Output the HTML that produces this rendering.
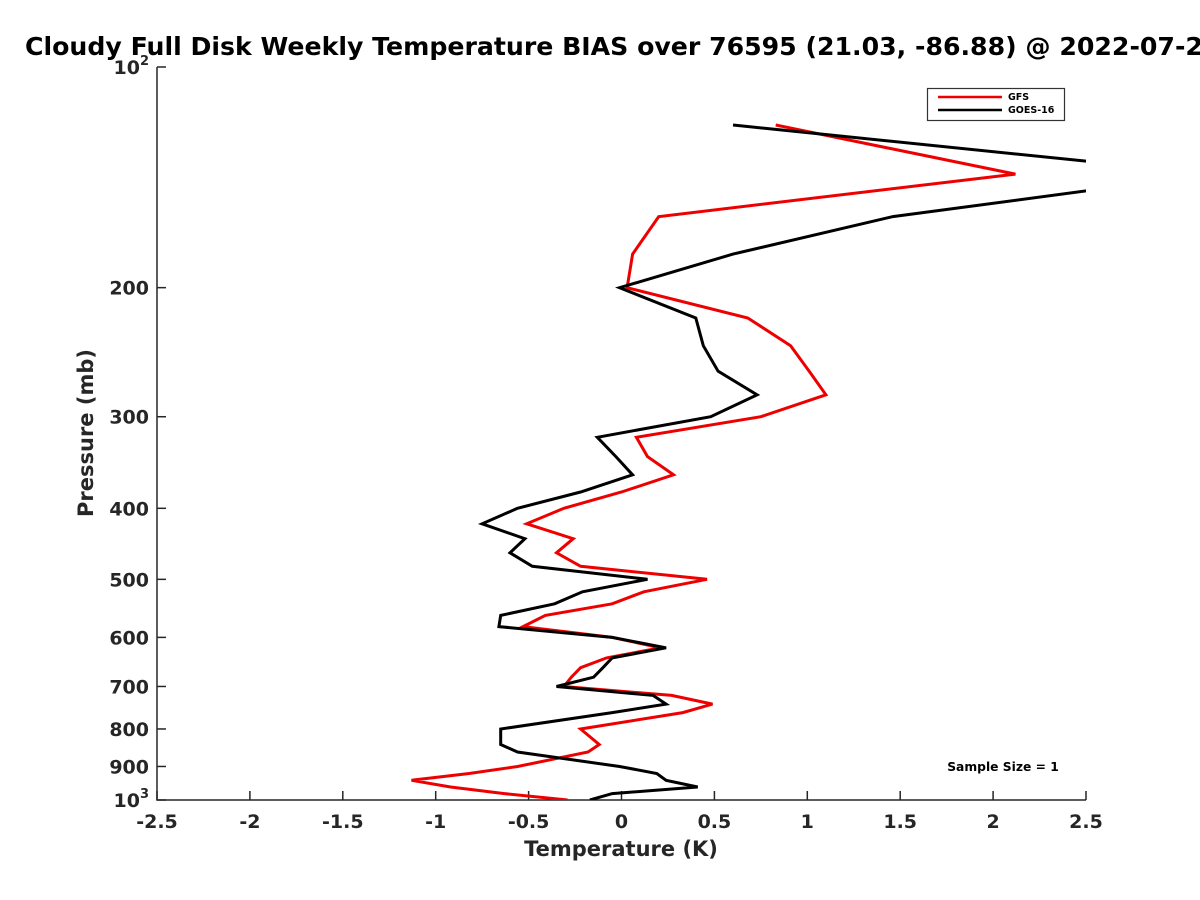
<!DOCTYPE html>
<html><head><meta charset="utf-8"><style>
html,body{margin:0;padding:0;background:#fff;}
svg{display:block;font-family:"DejaVu Sans","Liberation Sans",sans-serif;}
</style></head><body>
<svg id="chart" width="1200" height="900" xmlns="http://www.w3.org/2000/svg">
<defs><clipPath id="plotclip"><rect x="157" y="67" width="929" height="733"/></clipPath></defs>
<text x="25" y="55" font-size="25.2" font-weight="bold" fill="#000">Cloudy Full Disk Weekly Temperature BIAS over 76595 (21.03, -86.88) @ 2022-07-25</text>
<g id="axes"></g>
<g id="series" clip-path="url(#plotclip)"></g>
<g>
<rect x="927.5" y="88.5" width="137" height="32" fill="#fff" stroke="#333" stroke-width="1.2"/>
<line x1="938" y1="97" x2="1002" y2="97" stroke="#e00" stroke-width="2.5"/>
<text x="1008" y="100" font-size="9.5" font-weight="bold">GFS</text>
<line x1="938" y1="110" x2="1002" y2="110" stroke="#000" stroke-width="2.5"/>
<text x="1008" y="113" font-size="9.5" font-weight="bold">GOES-16</text>
</g>
<text x="1003" y="771" font-size="12.3" font-weight="bold" text-anchor="middle">Sample Size = 1</text>
</svg>
<script>
const pressures=[120,140,160,180,200,220,240,260,280,300,320,340,360,380,400,420,440,460,480,500,520,540,560,580,600,620,640,660,680,700,720,740,760,800,840,860,900,920,940,960,980,1000];
const gfsValues=[0.83,2.12,0.20,0.06,0.03,0.68,0.91,1.01,1.10,0.75,0.08,0.14,0.28,0.00,-0.31,-0.51,-0.26,-0.35,-0.22,0.46,0.12,-0.05,-0.41,-0.53,-0.05,0.21,-0.08,-0.22,-0.27,-0.31,0.27,0.49,0.33,-0.22,-0.12,-0.18,-0.56,-0.82,-1.13,-0.92,-0.63,-0.29];
const goesValues=[0.60,3.18,1.46,0.60,-0.01,0.40,0.44,0.52,0.73,0.48,-0.13,-0.03,0.06,-0.22,-0.56,-0.75,-0.52,-0.60,-0.48,0.14,-0.21,-0.36,-0.65,-0.66,-0.05,0.24,-0.05,-0.10,-0.15,-0.35,0.17,0.24,-0.05,-0.65,-0.65,-0.56,-0.01,0.19,0.24,0.41,-0.05,-0.17];
const xTicks=[-2.5,-2,-1.5,-1,-0.5,0,0.5,1,1.5,2,2.5];
const yTicks=[100,200,300,400,500,600,700,800,900,1000];

const NS="http://www.w3.org/2000/svg";
const X0=157,X1=1086,Y0=67,Y1=800;
function xs(v){return X0+(v+2.5)/5*(X1-X0);}
function ys(p){return Y0+(Math.log10(p)-2)*(Y1-Y0);}
function mk(tag,attrs,parent){const e=document.createElementNS(NS,tag);for(const k in attrs)e.setAttribute(k,attrs[k]);parent.appendChild(e);return e;}
const axes=document.getElementById('axes');
const ax=mk('path',{d:`M${X0},${Y0}V${Y1}H${X1}`,fill:'none',stroke:'#262626','stroke-width':1.5},axes);


xTicks.forEach(v=>{
  const x=xs(v);
  const t=mk('line',{x1:x,y1:Y1,x2:x,y2:Y1-9,stroke:'#262626','stroke-width':1.5},axes);
  
  
  const l=mk('text',{x:x,y:Y1+28,'font-size':19,'font-weight':'bold','text-anchor':'middle',fill:'#262626'},axes);
  l.textContent=String(v);
  
  
});
yTicks.forEach(p=>{
  const y=ys(p);
  const t=mk('line',{x1:X0,y1:y,x2:X0+9,y2:y,stroke:'#262626','stroke-width':1.5},axes);
  
  
  const l=mk('text',{x:X0-8,y:y+7,'font-size':19,'font-weight':'bold','text-anchor':'end',fill:'#262626'},axes);
  if(p===100||p===1000){
    l.textContent='10';
    const s=mk('tspan',{dy:-9,'font-size':13},l);s.textContent=p===100?'2':'3';
  } else l.textContent=String(p);
  
  
});
const xt=mk('text',{x:621,y:856,'font-size':21,'font-weight':'bold','text-anchor':'middle',fill:'#262626'},axes);
xt.textContent='Temperature (K)';


const yt=mk('text',{x:0,y:0,'font-size':21,'font-weight':'bold','text-anchor':'middle',fill:'#262626',transform:'translate(93,433) rotate(-90)'},axes);
yt.textContent='Pressure (mb)';


const ser=document.getElementById('series');
function line(vals,color,name){
  const d=vals.map((v,i)=>(i?'L':'M')+xs(v).toFixed(1)+','+ys(pressures[i]).toFixed(1)).join('');
  const p=mk('path',{d:d,fill:'none',stroke:color,'stroke-width':3,'stroke-linejoin':'miter'},ser);
  
  
}
line(gfsValues,'#e00','gfs-bias-line');
line(goesValues,'#000','goes16-bias-line');
</script>
</body></html>
